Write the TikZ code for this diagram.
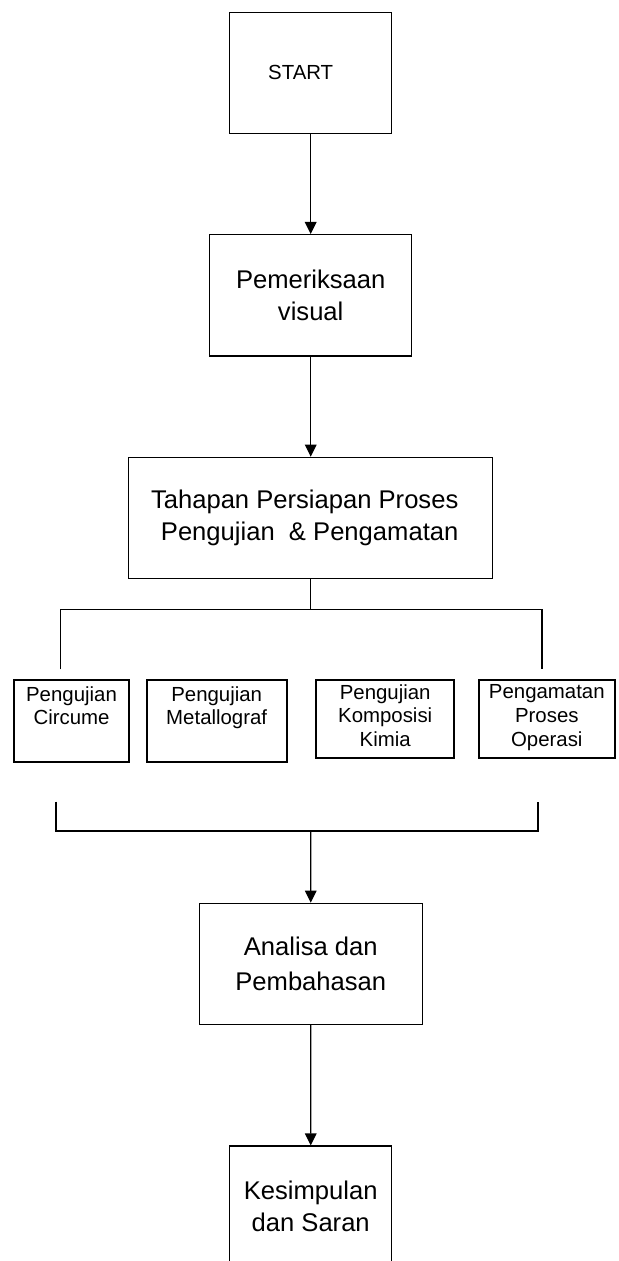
\documentclass[tikz,border=0pt]{standalone}
\usepackage{fontspec}
\setmainfont{Liberation Sans}
\usetikzlibrary{arrows.meta}

\begin{document}
\begin{tikzpicture}[x=0.5pt, y=-0.5pt]
 \tikzstyle{kotak}=[rectangle, draw, line width=0.6pt, text=black, align=center, inner sep=0pt, font=\fontsize{12.8}{15.9}\selectfont]
 \tikzstyle{kecil}=[rectangle, draw, line width=1pt, text=black, align=center, inner sep=0pt, font=\fontsize{10.2}{11.8}\selectfont]
 \tikzstyle{panah}=[-{Triangle[length=6pt, width=5.8pt]}, line width=0.6pt]
 \tikzstyle{garis}=[line width=0.6pt]
 \useasboundingbox (0, 0) rectangle (618, 1261);
 \clip (0, 0) rectangle (618, 1261);
 %
 \node[kotak, minimum width=81pt, minimum height=60.5pt, font=\fontsize{10.2}{11.8}\selectfont] (start) at (310.7, 72.8) {START\hspace*{10pt}};
 \node[kotak, minimum width=101pt, minimum height=60.7pt] (periksa) at (310.7, 295.3) {Pemeriksaan\\visual};
 \node[kotak, minimum width=182pt, minimum height=60.7pt, align=right] (tahap) at (310.7, 518) {Tahapan Persiapan Proses\hspace*{6pt}\\Pengujian\ \ \& Pengamatan\hspace*{6pt}};
 %
 \node[kecil, minimum width=57.5pt, minimum height=41pt] (uji1) at (71.5, 721) {Pengujian\\Circume\\\strut};
 \node[kecil, minimum width=70pt, minimum height=41pt] (uji2) at (216.7, 721) {Pengujian\\Metallograf\\\strut};
 \node[kecil, minimum width=68.8pt, minimum height=39pt] (uji3) at (385.2, 719) {Pengujian\\Komposisi\\Kimia\strut};
 \node[kecil, minimum width=68.2pt, minimum height=39pt] (uji4) at (546.8, 719) {Pengamatan\\Proses\\Operasi\strut};
 %
 \node[kotak, minimum width=111.5pt, minimum height=60.4pt, font=\fontsize{12.8}{17.8}\selectfont] (analisa) at (310.8, 963.7) {Analisa dan\\Pembahasan};
 \node[kotak, minimum width=81pt, minimum height=60.5pt, font=\fontsize{12.8}{16.3}\selectfont] (simpul) at (310.7, 1206.5) {Kesimpulan\\dan Saran};
 %
 \coordinate (pisah) at (310.7, 609.3);
 \coordinate (kaki1) at (60.3, 669.3);
 \coordinate (kaki2) at (542, 669.3);
 \coordinate (gabung) at (310.7, 831);
 \coordinate (kaki3) at (56, 801.7);
 \coordinate (kaki4) at (538, 801.7);
 %%
 \draw[panah] (start)--(periksa);
 \draw[panah] (periksa)--(tahap);
 \draw[garis] (tahap)--(pisah);
 \draw[garis] (kaki1) |- (pisah) -| (kaki2);
 \draw[garis] (kaki3) |- (gabung) -| (kaki4);
 \draw[panah] (gabung)--(analisa);
 \draw[panah] (analisa)--(simpul);
\end{tikzpicture}
\end{document}
